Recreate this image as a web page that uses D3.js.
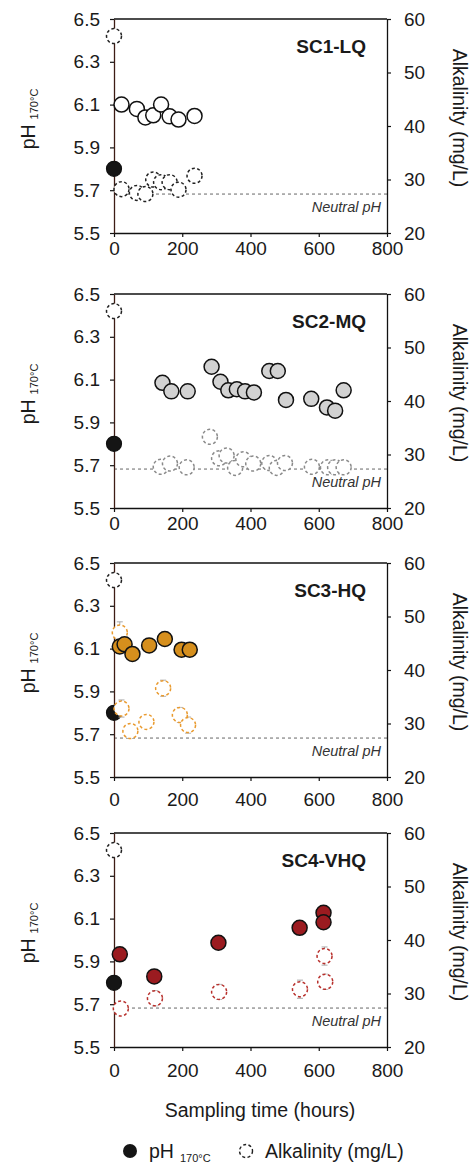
<!DOCTYPE html>
<html>
<head>
<meta charset="utf-8">
<script src="https://cdn.jsdelivr.net/npm/d3@7"></script>
<style>
  body { margin: 0; background: #fff; }
  text { font-family: "Liberation Sans", Arial, sans-serif; }
</style>
</head>
<body>
<script>
// initial solution (t = 0), same in every panel
var initTime = 0;
var initPh = 5.80;
var initAlk = 56.8;
var neutralPh = 5.682;

// SC1-LQ
var phTime1 = [22, 67, 92, 115, 138, 163, 189, 236];
var ph1 = [6.10, 6.08, 6.04, 6.05, 6.10, 6.045, 6.03, 6.047];
var alkTime1 = [22, 67, 92, 115, 138, 163, 189, 236];
var alk1 = [28.2, 27.5, 27.3, 30.0, 29.5, 29.5, 28.1, 30.7];

// SC2-MQ
var phTime2 = [142, 168, 216, 286, 312, 335, 360, 384, 410, 455, 480, 504, 578, 624, 648, 673];
var ph2 = [6.085, 6.045, 6.045, 6.16, 6.09, 6.05, 6.055, 6.045, 6.04, 6.14, 6.14, 6.005, 6.01, 5.97, 5.955, 6.05];
var alkTime2 = [137, 164, 213, 281, 308, 330, 355, 379, 408, 455, 477, 501, 580, 627, 648, 673];
var alk2 = [27.7, 28.3, 27.6, 33.3, 29.3, 29.8, 27.5, 29.1, 28.3, 28.4, 27.5, 28.4, 27.7, 27.6, 27.6, 27.6];

// SC3-HQ
var phTime3 = [17, 31, 54, 103, 149, 198, 222];
var ph3 = [6.11, 6.12, 6.075, 6.115, 6.145, 6.095, 6.095];
var alkTime3 = [17, 22, 48, 95, 144, 193, 217];
var alk3 = [47.0, 32.8, 28.6, 30.3, 36.6, 31.6, 29.7];
var alkErr3 = [2.0, 1.6, 0.5, 0.8, 1.5, 1.4, 1.5];

// SC4-VHQ
var phTime4 = [17, 118, 306, 544, 614, 614];
var ph4 = [5.933, 5.83, 5.987, 6.057, 6.127, 6.083];
var alkTime4 = [20, 120, 308, 545, 617, 619];
var alk4 = [27.2, 29.1, 30.3, 30.8, 37.0, 32.2];
var alkErr4 = [0.6, 1.4, 1.4, 1.7, 1.7, 1.4];

// tick labels
var timeTicks = [0, 200, 400, 600, 800];
var phTicks = [5.5, 5.7, 5.9, 6.1, 6.3, 6.5];
var alkTicks = [20, 30, 40, 50, 60];

var panels = [
  { name: "SC1-LQ", phTime: phTime1, ph: ph1, alkTime: alkTime1, alk: alk1, alkErr: null, fill: "#ffffff", dash: "#222" },
  { name: "SC2-MQ", phTime: phTime2, ph: ph2, alkTime: alkTime2, alk: alk2, alkErr: null, fill: "#d2d2d2", dash: "#8a8a8a" },
  { name: "SC3-HQ", phTime: phTime3, ph: ph3, alkTime: alkTime3, alk: alk3, alkErr: alkErr3, fill: "#d68f1d", dash: "#e99a2e" },
  { name: "SC4-VHQ", phTime: phTime4, ph: ph4, alkTime: alkTime4, alk: alk4, alkErr: alkErr4, fill: "#9b1b20", dash: "#b8302c" }
];

// layout
var svgWidth = 473, svgHeight = 1163;
var panelTops = [19, 294, 563, 833];
var plotH = 214;
var labelGap = [5, 5, 12, 13];
var r = 7.5;

var svg = d3.select("body").append("svg")
  .attr("width", svgWidth)
  .attr("height", svgHeight);

var x = d3.scaleLinear().domain([0, 800]).range([114, 387]);
var yPh = d3.scaleLinear().domain([5.5, 6.5]).range([plotH, 0]);
var yAlk = d3.scaleLinear().domain([20, 60]).range([plotH, 0]);

panels.forEach(function(p, i) {
  var g = svg.append("g").attr("transform", "translate(0," + panelTops[i] + ")");

  // top border
  g.append("line")
    .attr("x1", x(0)).attr("x2", x(800))
    .attr("y1", 0).attr("y2", 0)
    .attr("stroke", "#111").attr("stroke-width", 1.3);

  // neutral pH line
  g.append("line")
    .attr("x1", x(0)).attr("x2", x(800))
    .attr("y1", yPh(neutralPh)).attr("y2", yPh(neutralPh))
    .attr("stroke", "#666").attr("stroke-width", 1)
    .attr("stroke-dasharray", "3,3");

  g.append("text")
    .attr("x", 381).attr("y", yPh(5.6))
    .attr("text-anchor", "end")
    .attr("font-size", 14.5)
    .attr("font-style", "italic")
    .attr("fill", "#333")
    .text("Neutral pH");

  // axes
  var bottom = g.append("g")
    .attr("transform", "translate(0," + plotH + ")")
    .call(d3.axisBottom(x).tickValues(timeTicks).tickSize(4).tickSizeOuter(0).tickPadding(labelGap[i]));

  var left = g.append("g")
    .attr("transform", "translate(" + x(0) + ",0)")
    .call(d3.axisLeft(yPh).tickValues(phTicks).tickFormat(d3.format(".1f")).tickSize(4).tickSizeOuter(0).tickPadding(10));

  var right = g.append("g")
    .attr("transform", "translate(" + x(800) + ",0)")
    .call(d3.axisRight(yAlk).tickValues(alkTicks).tickSize(4).tickSizeOuter(0).tickPadding(13));

  [bottom, left, right].forEach(function(a) {
    a.selectAll("text").attr("font-size", 19).attr("fill", "#1a1a1a")
      .style("font-family", '"Liberation Sans", Arial, sans-serif');
    a.selectAll("line").attr("stroke", "#111").attr("stroke-width", 1.2);
    a.select(".domain").attr("stroke", "#111").attr("stroke-width", 1.3);
  });
  left.select(".domain").attr("stroke", "#3d1c14");

  // panel title
  g.append("text")
    .attr("x", 366).attr("y", 34)
    .attr("text-anchor", "end")
    .attr("font-size", 19)
    .attr("font-weight", "bold")
    .attr("fill", "#1a1a1a")
    .text(p.name);

  // axis titles
  var leftLab = g.append("text")
    .attr("transform", "translate(35," + 100 + ") rotate(-90)")
    .attr("text-anchor", "middle")
    .attr("font-size", 19.5)
    .attr("fill", "#1a1a1a");
  leftLab.append("tspan").text("pH");
  leftLab.append("tspan").attr("font-size", 11).attr("dx", 5).attr("dy", 3).text("170°C");

  g.append("text")
    .attr("transform", "translate(453," + 99 + ") rotate(90)")
    .attr("text-anchor", "middle")
    .attr("font-size", 19.5)
    .attr("fill", "#1a1a1a")
    .text("Alkalinity (mg/L)");

  // initial pH
  g.append("circle")
    .attr("cx", x(initTime)).attr("cy", yPh(initPh)).attr("r", r)
    .attr("fill", "#151515").attr("stroke", "#111").attr("stroke-width", 1.2);

  // initial alkalinity
  g.append("circle")
    .attr("cx", x(initTime)).attr("cy", yAlk(initAlk)).attr("r", r)
    .attr("fill", "#fff").attr("stroke", "#222").attr("stroke-width", 1.5)
    .attr("stroke-dasharray", "3,2.4");

  var alkData = p.alkTime.map(function(t, k) {
    return { t: t, v: p.alk[k], e: p.alkErr ? p.alkErr[k] : 0 };
  });

  // error bars
  if (p.alkErr) {
    var eb = g.selectAll(".err").data(alkData).enter().append("g").attr("class", "err")
      .attr("stroke", "#aaa").attr("stroke-width", 1);
    eb.append("line")
      .attr("x1", d => x(d.t)).attr("x2", d => x(d.t))
      .attr("y1", d => yAlk(d.v - d.e)).attr("y2", d => yAlk(d.v + d.e));
    eb.append("line")
      .attr("x1", d => x(d.t) - 3).attr("x2", d => x(d.t) + 3)
      .attr("y1", d => yAlk(d.v + d.e)).attr("y2", d => yAlk(d.v + d.e));
    eb.append("line")
      .attr("x1", d => x(d.t) - 3).attr("x2", d => x(d.t) + 3)
      .attr("y1", d => yAlk(d.v - d.e)).attr("y2", d => yAlk(d.v - d.e));
  }

  // alkalinity circles
  g.selectAll(".alk").data(alkData).enter().append("circle").attr("class", "alk")
    .attr("cx", d => x(d.t)).attr("cy", d => yAlk(d.v)).attr("r", r)
    .attr("fill", "#fff")
    .attr("stroke", p.dash).attr("stroke-width", 1.5)
    .attr("stroke-dasharray", "3,2.4");

  // pH circles
  g.selectAll(".ph").data(p.phTime).enter().append("circle").attr("class", "ph")
    .attr("cx", d => x(d)).attr("cy", (d, k) => yPh(p.ph[k])).attr("r", r)
    .attr("fill", p.fill)
    .attr("stroke", "#111").attr("stroke-width", 1.5);
});

// x axis title
svg.append("text")
  .attr("x", 260).attr("y", 1117)
  .attr("text-anchor", "middle")
  .attr("font-size", 19.5)
  .attr("fill", "#1a1a1a")
  .text("Sampling time (hours)");

// legend
svg.append("circle")
  .attr("cx", 130).attr("cy", 1151).attr("r", 7)
  .attr("fill", "#151515");
var lg = svg.append("text")
  .attr("x", 149).attr("y", 1158)
  .attr("font-size", 19.5)
  .attr("fill", "#1a1a1a");
lg.append("tspan").text("pH");
lg.append("tspan").attr("font-size", 11).attr("dx", 6).attr("dy", 4).text("170°C");

svg.append("circle")
  .attr("cx", 246).attr("cy", 1151).attr("r", 6.5)
  .attr("fill", "#fff").attr("stroke", "#222").attr("stroke-width", 1.4)
  .attr("stroke-dasharray", "3,2.4");
svg.append("text")
  .attr("x", 265).attr("y", 1158)
  .attr("font-size", 19.5)
  .attr("fill", "#1a1a1a")
  .text("Alkalinity (mg/L)");
</script>
</body>
</html>
